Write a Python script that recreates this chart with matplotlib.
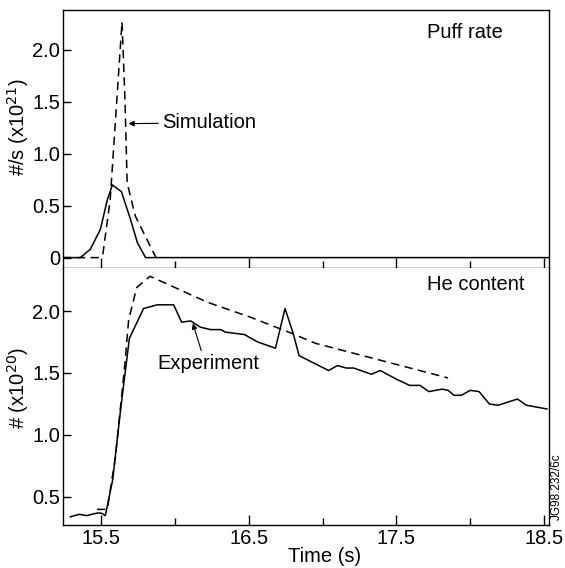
import matplotlib
matplotlib.use("Agg")
import matplotlib.pyplot as plt
from matplotlib.ticker import MultipleLocator, FixedLocator

plt.rcParams['font.family'] = ['Liberation Sans', 'DejaVu Sans']

# puff rate (#/s, x1e21)
puff_exp_t = [15.24, 15.357, 15.425, 15.493, 15.541, 15.575, 15.636, 15.697, 15.745, 15.80, 18.534]
puff_exp_v = [0.0, 0.0, 0.08, 0.27, 0.56, 0.70, 0.635, 0.37, 0.14, 0.0, 0.0]
puff_sim_t = [15.24, 15.49, 15.51, 15.56, 15.64, 15.66, 15.675, 15.73, 15.80, 15.87]
puff_sim_v = [0.0, 0.0, 0.03, 0.56, 2.27, 1.52, 0.72, 0.40, 0.20, 0.0]

# He content (#, x1e20)
he_exp_t = [15.289, 15.35, 15.40, 15.47, 15.50, 15.527, 15.577, 15.63, 15.69, 15.786,
            15.88, 15.99, 16.044, 16.105, 16.17, 16.24, 16.31, 16.34, 16.47, 16.56,
            16.68, 16.745, 16.80, 16.84, 17.04, 17.10, 17.16, 17.21, 17.33, 17.39,
            17.50, 17.59, 17.66, 17.72, 17.81, 17.85, 17.89, 17.94, 18.0, 18.06,
            18.13, 18.19, 18.32, 18.38, 18.52]
he_exp_v = [0.34, 0.36, 0.35, 0.37, 0.37, 0.35, 0.64, 1.20, 1.78, 2.02,
            2.05, 2.05, 1.91, 1.92, 1.87, 1.85, 1.85, 1.83, 1.81, 1.75,
            1.70, 2.02, 1.82, 1.64, 1.52, 1.56, 1.54, 1.54, 1.49, 1.52,
            1.45, 1.40, 1.40, 1.35, 1.37, 1.36, 1.32, 1.32, 1.36, 1.35,
            1.25, 1.24, 1.29, 1.24, 1.21]
he_sim_t = [15.47, 15.54, 15.595, 15.66, 15.685, 15.74, 15.83, 16.22, 16.51, 16.79, 16.95, 17.85]
he_sim_v = [0.40, 0.40, 0.82, 1.58, 1.93, 2.19, 2.28, 2.07, 1.95, 1.82, 1.74, 1.46]

xmajor = [15.5, 16.5, 17.5, 18.5]
xminor = [16.0, 17.0, 18.0]

fs = 14.5

fig = plt.figure(figsize=(5.65, 5.68), dpi=100)
ax1 = fig.add_axes([0.1115, 0.5282, 0.8602, 0.4542])
ax2 = fig.add_axes([0.1115, 0.0757, 0.8602, 0.4525])

lw = 1.1
dash = (5.5, 3.5)

ax1.plot(puff_exp_t, puff_exp_v, color='black', lw=lw)
ax1.plot(puff_sim_t, puff_sim_v, color='black', lw=lw, dashes=dash)
ax2.plot(he_exp_t, he_exp_v, color='black', lw=lw)
ax2.plot(he_sim_t, he_sim_v, color='black', lw=lw, dashes=dash)

ax1.set_ylim(-0.1, 2.385)
ax2.set_ylim(0.274, 2.347)
for ax in (ax1, ax2):
    ax.set_xlim(15.24, 18.534)
    ax.xaxis.set_major_locator(FixedLocator(xmajor))
    ax.xaxis.set_minor_locator(FixedLocator(xminor))
    ax.yaxis.set_major_locator(MultipleLocator(0.5))
    ax.tick_params(axis='x', which='major', direction='in', length=7, width=1.0,
                   labelsize=fs, pad=3)
    ax.tick_params(axis='x', which='minor', direction='in', length=5, width=1.0)
    ax.tick_params(axis='y', direction='in', length=6, width=1.0, labelsize=fs, pad=2)
    for s in ax.spines.values():
        s.set_linewidth(1.0)

ax1.set_yticks([0, 0.5, 1.0, 1.5, 2.0])
ax1.set_yticklabels(['0', '0.5', '1.0', '1.5', '2.0'])
ax1.tick_params(axis='x', labelbottom=False)
ax2.set_yticks([0.5, 1.0, 1.5, 2.0])
ax2.set_yticklabels(['0.5', '1.0', '1.5', '2.0'])
ax2.spines['top'].set_visible(False)

ax1.set_ylabel('#/s (x10$^{21}$)', fontsize=fs)
ax1.yaxis.set_label_coords(-0.066, 0.547)
ax2.set_ylabel('# (x10$^{20}$)', fontsize=fs)
ax2.yaxis.set_label_coords(-0.066, 0.533)
ax2.set_xlabel('Time (s)', fontsize=fs)
ax2.xaxis.set_label_coords(0.539, -0.084)

ax1.text(0.827, 0.911, 'Puff rate', transform=ax1.transAxes, fontsize=fs,
         ha='center', va='center')
ax2.text(0.85, 0.934, 'He content', transform=ax2.transAxes, fontsize=fs,
         ha='center', va='center')

arrow = dict(arrowstyle='-|>', color='black', lw=0.8, mutation_scale=8, shrinkA=1, shrinkB=0)
ax1.annotate('Simulation', xy=(15.684, 1.29), xytext=(15.915, 1.30),
             fontsize=fs, ha='left', va='center', arrowprops=arrow)
ax2.annotate('', xy=(16.12, 1.90), xytext=(16.18, 1.67), arrowprops=arrow)
ax2.text(15.88, 1.58, 'Experiment', fontsize=fs, ha='left', va='center')

fig.text(557 / 565, 1 - 487 / 568, 'JG98.232/6c', rotation=90, fontsize=8.5,
         ha='center', va='center')

fig.savefig('out.png', dpi=100)
